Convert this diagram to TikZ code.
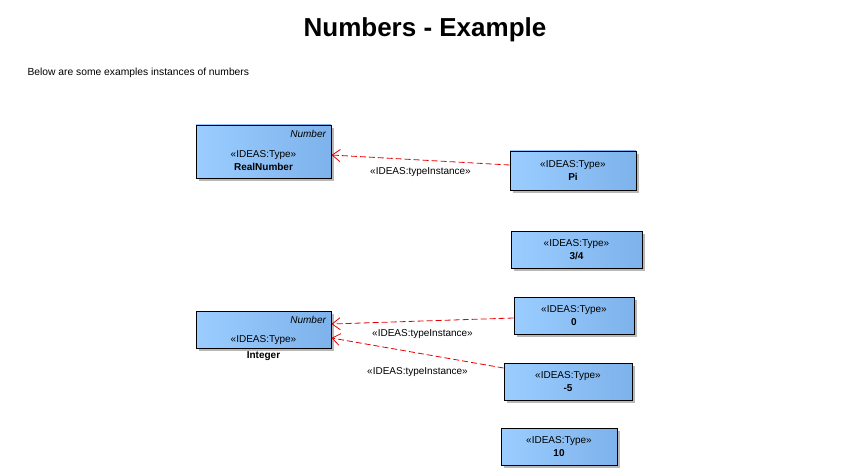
\documentclass[tikz,border=0pt]{standalone}
\usepackage{fontspec}
\setmainfont{Liberation Sans}
\usetikzlibrary{arrows.meta, positioning, shadows}
\definecolor{typeleft}{RGB}{155, 205, 255}
\definecolor{typeright}{RGB}{125, 178, 235}
\definecolor{linkred}{RGB}{230, 0, 0}
\tikzstyle{typebox} = [rectangle, draw=black, line width=0.9pt, left color=typeleft, right color=typeright,
                       drop shadow={shadow xshift=3pt, shadow yshift=-3pt, fill=black!28, opacity=1},
                       inner sep=0pt]
\tikzstyle{boxtext} = [font=\fontsize{10}{13.5}\selectfont, align=center]
\tikzstyle{link} = [-{Straight Barb[length=8pt, width=12pt]}, linkred, dashed, dash pattern=on 6pt off 3pt, line width=0.8pt]
\tikzstyle{linklabel} = [font=\fontsize{10}{12}\selectfont, text=black]

\begin{document}
\begin{tikzpicture}[x=1pt, y=-1pt]
    \useasboundingbox (0,0) rectangle (846,476);
    % Heading
    \node[font=\bfseries\fontsize{26}{29}\selectfont] (title) at (425,30) {Numbers - Example};
    \node[font=\fontsize{10.3}{12}\selectfont, anchor=west] (intro) at (24,73) {Below are some examples instances of numbers};

    % Classifiers
    \node[typebox, minimum width=135pt, minimum height=53pt] (realnumber) at (263.5,151.5) {};
    \node[boxtext, font=\itshape\fontsize{10}{12}\selectfont, anchor=north east] at ([xshift=-2pt, yshift=-2pt]realnumber.north east) {Number};
    \node[boxtext] at (263.5,160.5) {«IDEAS:Type»\\\textbf{RealNumber}};

    \node[typebox, minimum width=135pt, minimum height=37pt] (integer) at (263.5,329.5) {};
    \node[boxtext, font=\itshape\fontsize{10}{12}\selectfont, anchor=north east] at ([xshift=-2pt, yshift=-2pt]integer.north east) {Number};
    \node[boxtext] at (263.5,340) {«IDEAS:Type»};
    \node[boxtext, below=0pt of integer] (integername) {\textbf{Integer}};

    % Instances
    \node[typebox, minimum width=126pt, minimum height=39pt] (pi) at (573,170.5) {};
    \node[boxtext] at (pi) {«IDEAS:Type»\\\textbf{Pi}};
    \node[typebox, minimum width=131pt, minimum height=37pt] (threequarters) at (576.5,249.5) {};
    \node[boxtext] at (threequarters) {«IDEAS:Type»\\\textbf{3/4}};
    \node[typebox, minimum width=120pt, minimum height=37pt] (zero) at (574,315.5) {};
    \node[boxtext] at (zero) {«IDEAS:Type»\\\textbf{0}};
    \node[typebox, minimum width=128pt, minimum height=37pt] (minusfive) at (568,381.5) {};
    \node[boxtext] at (minusfive) {«IDEAS:Type»\\\textbf{-5}};
    \node[typebox, minimum width=116pt, minimum height=37pt] (ten) at (559,446.5) {};
    \node[boxtext] at (ten) {«IDEAS:Type»\\\textbf{10}};

    % Type instance links
    \draw[link] ([yshift=5.5pt]pi.west) -- node[linklabel, below=4pt] {«IDEAS:typeInstance»} ([yshift=-3.5pt]realnumber.east);
    \draw[link] ([yshift=-2.5pt]zero.west) -- node[linklabel, below=5pt] {«IDEAS:typeInstance»} ([yshift=5.5pt]integer.east);
    \draw[link] ([yshift=13.5pt]minusfive.west) -- node[linklabel, below=11pt] {«IDEAS:typeInstance»} ([yshift=-8.5pt]integer.east);
\end{tikzpicture}
\end{document}
